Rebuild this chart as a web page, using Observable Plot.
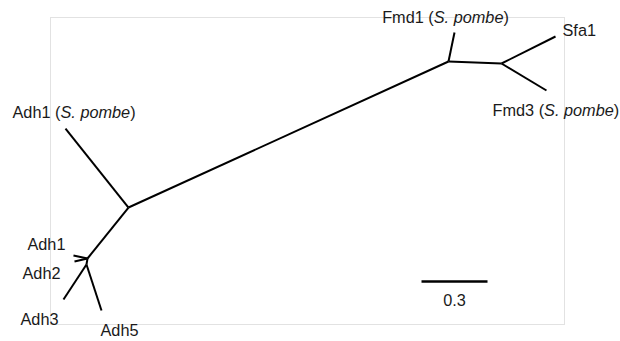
<!DOCTYPE html>
<html>
<head>
<meta charset="utf-8">
<script src="https://cdn.jsdelivr.net/npm/d3@7"></script>
<script src="https://cdn.jsdelivr.net/npm/@observablehq/plot@0.6"></script>
<style>
  html, body { margin: 0; padding: 0; background: #fff; }
  #chart svg { display: block; overflow: visible; }
</style>
</head>
<body>
<div id="chart"></div>
<script>
// Unrooted tree: node positions in branch-length units
const nodeNames = ["A", "B", "E", "Adh1", "Adh2", "Adh3", "Adh5", "Adh1Sp", "C", "Fmd1", "D", "Sfa1", "Fmd3"];
const nodeX = [0.3545, 0.1682, 0.1636, 0.1045, 0.1091, 0.0591, 0.2318, 0.0682, 1.8091, 1.8364, 2.0500, 2.2955, 2.2545];
const nodeY = [0.5318, 0.3000, 0.2727, 0.3136, 0.2864, 0.1136, 0.0636, 0.8909, 1.1955, 1.3273, 1.1864, 1.3091, 1.0636];

// Branches (parent -> child)
const edgeFrom = ["A", "B", "B", "B", "E", "E", "A", "A", "C", "C", "D", "D"];
const edgeTo   = ["B", "Adh1", "Adh2", "E", "Adh3", "Adh5", "Adh1Sp", "C", "Fmd1", "D", "Sfa1", "Fmd3"];

// Tip labels
const tipNodes  = ["Adh1Sp", "Fmd1", "Sfa1", "Fmd3", "Adh1", "Adh2", "Adh3", "Adh5"];
const tipLabels = ["Adh1 (S. pombe)", "Fmd1 (S. pombe)", "Sfa1", "Fmd3 (S. pombe)", "Adh1", "Adh2", "Adh3", "Adh5"];

// Scale bar
const scaleLength = 0.3;
const scaleLabel = "0.3";
const scaleStart = [1.6864, 0.1955];

// ---- presentation ----
const labelLayout = {
  "Adh1Sp": {anchor: "start",  dx: -53, dy: -16},
  "Fmd1":   {anchor: "middle", dx: -9,  dy: -15},
  "Sfa1":   {anchor: "start",  dx: 7,   dy: -6},
  "Fmd3":   {anchor: "start",  dx: -54, dy: 20},
  "Adh1":   {anchor: "end",    dx: -8,  dy: -11},
  "Adh2":   {anchor: "end",    dx: -14, dy: 12},
  "Adh3":   {anchor: "end",    dx: -5,  dy: 20},
  "Adh5":   {anchor: "start",  dx: -1,  dy: 20}
};

const pos = new Map(nodeNames.map((n, i) => [n, [nodeX[i], nodeY[i]]]));
const links = edgeFrom.map((f, i) => ({
  x1: pos.get(f)[0], y1: pos.get(f)[1],
  x2: pos.get(edgeTo[i])[0], y2: pos.get(edgeTo[i])[1]
}));
const tips = tipNodes.map((n, i) => ({
  x: pos.get(n)[0], y: pos.get(n)[1], label: tipLabels[i], node: n
}));

const W = 620, H = 341;
const mL = 50, mR = 56, mT = 17, mB = 17;
const pxPerUnit = 220;

const textMarks = tips.map(t =>
  Plot.text([t], {
    x: "x", y: "y", text: "label",
    textAnchor: labelLayout[t.node].anchor,
    dx: labelLayout[t.node].dx, dy: labelLayout[t.node].dy,
    fill: "#1a1a1a"
  })
);

const scaleBar = [{x1: scaleStart[0], x2: scaleStart[0] + scaleLength, y: scaleStart[1], label: scaleLabel}];

const chart = Plot.plot({
  width: W, height: H,
  marginLeft: mL, marginRight: mR, marginTop: mT, marginBottom: mB,
  x: {domain: [0, (W - mL - mR) / pxPerUnit], axis: null},
  y: {domain: [0, (H - mT - mB) / pxPerUnit], axis: null},
  style: {fontFamily: "'Liberation Sans', Arial, sans-serif", fontSize: "16.3px", background: "#fff", color: "#1a1a1a"},
  marks: [
    Plot.frame({stroke: "#e2e2e2", strokeWidth: 1}),
    Plot.link(links, {x1: "x1", y1: "y1", x2: "x2", y2: "y2", stroke: "#000", strokeWidth: 2, strokeLinecap: "butt"}),
    Plot.link(scaleBar, {x1: "x1", x2: "x2", y1: "y", y2: "y", stroke: "#000", strokeWidth: 2.6}),
    Plot.text(scaleBar, {x: d => (d.x1 + d.x2) / 2, y: "y", text: "label", dy: 19, fill: "#1a1a1a"}),
    ...textMarks
  ]
});

// italicize species names
d3.select(chart).selectAll("text").each(function() {
  const el = this;
  if (el.querySelector("tspan")) return;
  const s = el.textContent;
  const m = s.match(/^(.*\()(S\. pombe)(\))$/);
  if (m) {
    el.textContent = "";
    const sel = d3.select(el);
    sel.append("tspan").text(m[1]);
    sel.append("tspan").attr("font-style", "italic").text(m[2]);
    sel.append("tspan").text(m[3]);
  }
});

document.getElementById("chart").appendChild(chart);
</script>
</body>
</html>
